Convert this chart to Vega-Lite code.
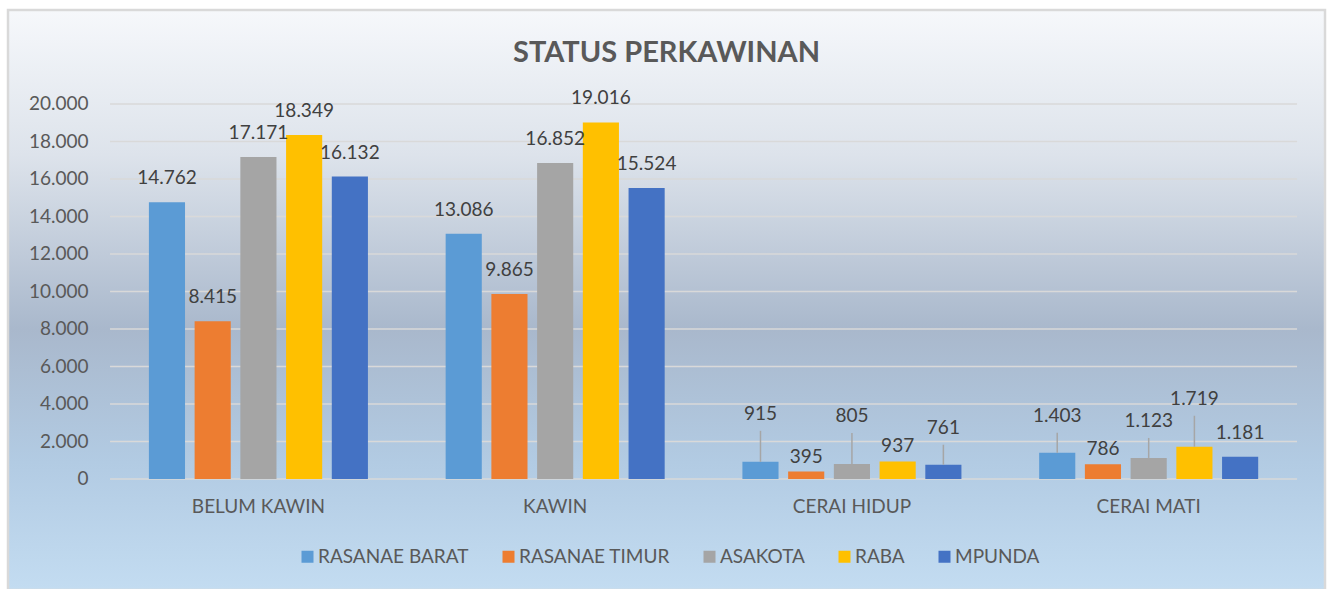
{
  "$schema": "https://vega.github.io/schema/vega-lite/v6.json",
  "width": 1317,
  "height": 580,
  "autosize": {"type": "none"},
  "padding": {"left": 8, "top": 10, "right": 7, "bottom": 0},
  "background": "white",
  "title": {
    "text": "STATUS PERKAWINAN",
    "font": "Lato",
    "fontSize": 29,
    "fontWeight": "bold",
    "color": "#595959",
    "anchor": "middle",
    "baseline": "middle",
    "offset": -72
  },
  "datasets": {
    "bars": [
      {"status": "BELUM KAWIN", "district": "RASANAE BARAT", "value": 14762},
      {"status": "BELUM KAWIN", "district": "RASANAE TIMUR", "value": 8415},
      {"status": "BELUM KAWIN", "district": "ASAKOTA", "value": 17171},
      {"status": "BELUM KAWIN", "district": "RABA", "value": 18349},
      {"status": "BELUM KAWIN", "district": "MPUNDA", "value": 16132},
      {"status": "KAWIN", "district": "RASANAE BARAT", "value": 13086},
      {"status": "KAWIN", "district": "RASANAE TIMUR", "value": 9865},
      {"status": "KAWIN", "district": "ASAKOTA", "value": 16852},
      {"status": "KAWIN", "district": "RABA", "value": 19016},
      {"status": "KAWIN", "district": "MPUNDA", "value": 15524},
      {"status": "CERAI HIDUP", "district": "RASANAE BARAT", "value": 915},
      {"status": "CERAI HIDUP", "district": "RASANAE TIMUR", "value": 395},
      {"status": "CERAI HIDUP", "district": "ASAKOTA", "value": 805},
      {"status": "CERAI HIDUP", "district": "RABA", "value": 937},
      {"status": "CERAI HIDUP", "district": "MPUNDA", "value": 761},
      {"status": "CERAI MATI", "district": "RASANAE BARAT", "value": 1403},
      {"status": "CERAI MATI", "district": "RASANAE TIMUR", "value": 786},
      {"status": "CERAI MATI", "district": "ASAKOTA", "value": 1123},
      {"status": "CERAI MATI", "district": "RABA", "value": 1719},
      {"status": "CERAI MATI", "district": "MPUNDA", "value": 1181}
    ],
    "ticks": [
      {"v": 0}, {"v": 2000}, {"v": 4000}, {"v": 6000}, {"v": 8000}, {"v": 10000},
      {"v": 12000}, {"v": 14000}, {"v": 16000}, {"v": 18000}, {"v": 20000}
    ]
  },
  "data": {"name": "bars"},
  "encoding": {
    "x": {
      "field": "status",
      "type": "nominal",
      "scale": {
        "domain": ["BELUM KAWIN", "KAWIN", "CERAI HIDUP", "CERAI MATI"],
        "paddingInner": 0,
        "paddingOuter": 0.219,
        "align": 0.785
      },
      "axis": {
        "orient": "bottom",
        "offset": -111,
        "title": null,
        "domain": false,
        "ticks": false,
        "labelAngle": 0,
        "labelPadding": 18,
        "labelFont": "Lato",
        "labelFontSize": 19,
        "labelColor": "#595959"
      }
    },
    "y": {
      "field": "value",
      "type": "quantitative",
      "scale": {"domain": [-5920, 25013], "zero": false, "nice": false},
      "axis": {
        "orient": "left",
        "offset": -102,
        "title": null,
        "grid": false,
        "domain": false,
        "ticks": false,
        "values": [0, 2000, 4000, 6000, 8000, 10000, 12000, 14000, 16000, 18000, 20000],
        "format": ",d",
        "labelPadding": 22,
        "labelFont": "Lato",
        "labelFontSize": 19,
        "labelColor": "#595959"
      }
    }
  },
  "layer": [
    {
      "data": {"name": "ticks"},
      "mark": {"type": "rule", "color": "#d9d9d9", "strokeWidth": 1.6},
      "encoding": {
        "x": {"datum": "BELUM KAWIN", "type": "nominal", "bandPosition": 0},
        "x2": {"datum": "CERAI MATI", "bandPosition": 1},
        "y": {"field": "v", "type": "quantitative"}
      }
    },
    {
      "mark": {"type": "bar"},
      "encoding": {
        "xOffset": {
          "field": "district",
          "type": "nominal",
          "scale": {
            "domain": ["RASANAE BARAT", "RASANAE TIMUR", "ASAKOTA", "RABA", "MPUNDA"],
            "paddingInner": 0.21,
            "paddingOuter": 0.85
          }
        },
        "y2": {"datum": 0},
        "color": {
          "field": "district",
          "type": "nominal",
          "scale": {
            "domain": ["RASANAE BARAT", "RASANAE TIMUR", "ASAKOTA", "RABA", "MPUNDA"],
            "range": ["#5b9bd5", "#ed7d31", "#a5a5a5", "#ffc000", "#4472c4"]
          },
          "legend": {
            "orient": "none",
            "legendX": 290,
            "legendY": 537,
            "direction": "horizontal",
            "title": null,
            "padding": 0,
            "symbolType": "square",
            "symbolSize": 144,
            "symbolStrokeWidth": 0,
            "symbolOpacity": 1,
            "labelFont": "Lato",
            "labelFontSize": 19,
            "labelColor": "#595959",
            "labelOffset": 1,
            "labelLimit": 300,
            "columnPadding": 30
          }
        }
      }
    },
    {
      "transform": [{"filter": "indexof(['CERAI HIDUP|RASANAE BARAT','CERAI HIDUP|ASAKOTA','CERAI MATI|RABA','CERAI HIDUP|MPUNDA','CERAI MATI|RASANAE BARAT','CERAI MATI|ASAKOTA','CERAI HIDUP|RASANAE TIMUR','CERAI HIDUP|RABA','CERAI MATI|RASANAE TIMUR'], datum.status + '|' + datum.district) < 0"}],
      "mark": {"type": "text", "baseline": "middle", "dy": -24, "font": "Lato", "fontSize": 19, "color": "#404040"},
      "encoding": {
        "xOffset": {"field": "district", "type": "nominal"},
        "text": {"field": "value", "type": "quantitative", "format": ",d"}
      }
    },
    {
      "transform": [{"filter": "indexof(['CERAI HIDUP|RASANAE TIMUR','CERAI HIDUP|RABA','CERAI MATI|RASANAE TIMUR'], datum.status + '|' + datum.district) >= 0"}],
      "mark": {"type": "text", "baseline": "middle", "dy": -15, "font": "Lato", "fontSize": 19, "color": "#404040"},
      "encoding": {
        "xOffset": {"field": "district", "type": "nominal"},
        "text": {"field": "value", "type": "quantitative", "format": ",d"}
      }
    },
    {
      "transform": [{"filter": "indexof(['CERAI HIDUP|RASANAE BARAT','CERAI HIDUP|ASAKOTA','CERAI MATI|RABA'], datum.status + '|' + datum.district) >= 0"}],
      "layer": [
        {
          "mark": {"type": "rule", "color": "#a6a6a6", "strokeWidth": 1.5, "y2Offset": -31},
          "encoding": {
            "xOffset": {"field": "district", "type": "nominal"},
            "y2": {"field": "value"}
          }
        },
        {
          "mark": {"type": "text", "baseline": "middle", "dy": -48, "font": "Lato", "fontSize": 19, "color": "#404040"},
          "encoding": {
            "xOffset": {"field": "district", "type": "nominal"},
            "text": {"field": "value", "type": "quantitative", "format": ",d"}
          }
        }
      ]
    },
    {
      "transform": [{"filter": "indexof(['CERAI HIDUP|MPUNDA','CERAI MATI|RASANAE BARAT','CERAI MATI|ASAKOTA'], datum.status + '|' + datum.district) >= 0"}],
      "layer": [
        {
          "mark": {"type": "rule", "color": "#a6a6a6", "strokeWidth": 1.5, "y2Offset": -20},
          "encoding": {
            "xOffset": {"field": "district", "type": "nominal"},
            "y2": {"field": "value"}
          }
        },
        {
          "mark": {"type": "text", "baseline": "middle", "dy": -37, "font": "Lato", "fontSize": 19, "color": "#404040"},
          "encoding": {
            "xOffset": {"field": "district", "type": "nominal"},
            "text": {"field": "value", "type": "quantitative", "format": ",d"}
          }
        }
      ]
    }
  ],
  "config": {
    "locale": {
      "number": {"decimal": ",", "thousands": ".", "grouping": [3], "currency": ["Rp", ""]}
    },
    "view": {
      "fill": {
        "gradient": "linear",
        "x1": 0, "y1": 0, "x2": 0, "y2": 1,
        "stops": [
          {"offset": 0, "color": "#f6f8fb"},
          {"offset": 0.25, "color": "#dde3eb"},
          {"offset": 0.55, "color": "#a9b8cc"},
          {"offset": 0.78, "color": "#b2cbe3"},
          {"offset": 1, "color": "#c3dcf1"}
        ]
      },
      "stroke": "#d9d9d9",
      "strokeWidth": 2.5
    }
  }
}
